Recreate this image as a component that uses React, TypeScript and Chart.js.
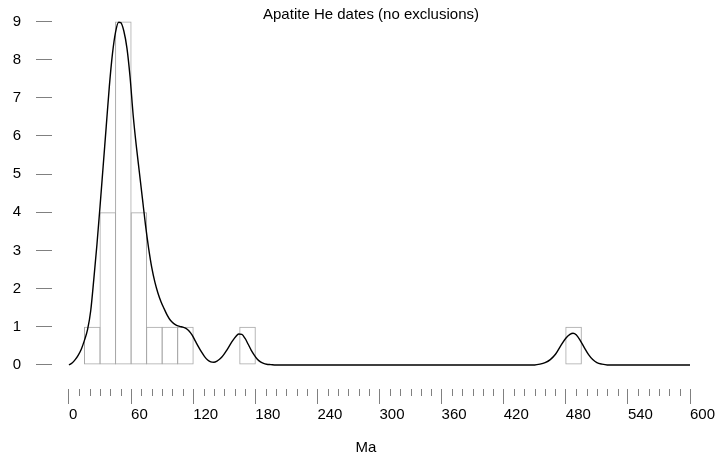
import React, { useEffect, useRef } from 'react';
import { Chart, registerables } from 'chart.js';

Chart.register(...registerables);

const chartTitle = 'Apatite He dates (no exclusions)';
const xAxisLabel = 'Ma';

// histogram bins (Ma)
const binStarts = [15, 30, 45, 60, 75, 90, 105, 165, 480];
const binCounts = [1, 4, 9, 4, 1, 1, 1, 1, 1];
const binWidth = 15;

// kernel density curve
const kdeX = [0, 3, 6, 9, 12, 15, 18, 21, 24, 27, 30, 33, 36, 39, 42, 45, 48, 50, 53, 56, 59, 62, 65, 68, 71, 74, 77, 80, 83, 86, 89, 92, 95, 98, 101, 104, 107, 110, 113, 116, 119, 122, 125, 128, 131, 134, 137, 140, 143, 146, 149, 152, 155, 158, 161, 164, 167, 170, 173, 176, 179, 182, 185, 188, 191, 195, 200, 450, 455, 460, 465, 470, 475, 480, 484, 487, 490, 494, 498, 502, 506, 510, 515, 520, 600];
const kdeY = [0, 0.05, 0.14, 0.26, 0.42, 0.65, 0.93, 1.42, 2.25, 3.15, 4.15, 5.2, 6.25, 7.3, 8.15, 8.72, 8.98, 8.97, 8.75, 8.3, 7.55, 6.55, 5.75, 5.05, 4.35, 3.65, 3.05, 2.55, 2.17, 1.88, 1.65, 1.47, 1.3, 1.17, 1.09, 1.04, 1.01, 0.99, 0.96, 0.89, 0.78, 0.63, 0.48, 0.34, 0.22, 0.13, 0.08, 0.07, 0.1, 0.16, 0.25, 0.37, 0.5, 0.63, 0.74, 0.81, 0.8, 0.7, 0.55, 0.39, 0.26, 0.15, 0.08, 0.04, 0.02, 0.01, 0, 0, 0.02, 0.06, 0.14, 0.28, 0.5, 0.7, 0.8, 0.83, 0.79, 0.64, 0.45, 0.27, 0.14, 0.06, 0.02, 0, 0];

// axes
const xMin = -16.4;
const xMax = 619.3;
const xMajorStep = 60;
const xMinorStep = 10;
const xLast = 600;
const yMin = -0.63;
const yMax = 9.3;
const yStep = 1;

const FONT = '"Liberation Sans", Arial, Helvetica, sans-serif';
const TICK_COLOR = '#808080';

const decorPlugin = {
  id: 'decor',
  afterDraw(chart: any) {
    const { ctx, chartArea, scales } = chart;
    const xs = scales.x;
    ctx.save();
    ctx.strokeStyle = TICK_COLOR;
    ctx.lineWidth = 1;
    for (let v = 0; v <= xLast; v += xMinorStep) {
      if (v % xMajorStep === 0) continue;
      const px = Math.round(xs.getPixelForValue(v)) + 0.5;
      ctx.beginPath();
      ctx.moveTo(px, chartArea.bottom);
      ctx.lineTo(px, chartArea.bottom + 7);
      ctx.stroke();
    }
    ctx.fillStyle = '#000';
    ctx.font = '15px ' + FONT;
    ctx.textAlign = 'center';
    ctx.textBaseline = 'alphabetic';
    ctx.fillText(chartTitle, 371, 19);
    ctx.fillText(xAxisLabel, 366, 452);
    ctx.restore();
  },
};

export default function App() {
  const ref = useRef<HTMLCanvasElement | null>(null);

  useEffect(() => {
    if (!ref.current) return;
    const barData = binStarts.map((s, i) => ({ x: s + binWidth / 2, y: binCounts[i] }));
    const lineData = kdeX.map((x, i) => ({ x, y: kdeY[i] }));
    const chart = new Chart(ref.current, {
      type: 'bar',
      data: {
        datasets: [
          {
            type: 'line',
            data: lineData,
            borderColor: '#000',
            borderWidth: 1.4,
            pointRadius: 0,
            fill: false,
            cubicInterpolationMode: 'monotone',
            order: 0,
          } as any,
          {
            type: 'bar',
            data: barData,
            backgroundColor: 'rgba(0,0,0,0)',
            borderColor: '#a8a8a8',
            borderWidth: 1,
            borderSkipped: false,
            barPercentage: 1.064,
            categoryPercentage: 1,
            order: 1,
          } as any,
        ],
      },
      options: {
        animation: false,
        responsive: true,
        maintainAspectRatio: false,
        layout: { padding: { top: 10, right: 8, left: 0, bottom: 0 } },
        plugins: { legend: { display: false }, tooltip: { enabled: false }, title: { display: false } },
        scales: {
          x: {
            type: 'linear',
            min: xMin,
            max: xMax,
            offset: false,
            afterFit: (s: any) => { s.height = 77; s.paddingLeft = 0; s.paddingRight = 0; },
            border: { display: false },
            grid: { offset: false, drawOnChartArea: false, drawTicks: true, tickLength: 15, tickColor: TICK_COLOR },
            ticks: {
              stepSize: xMajorStep,
              includeBounds: false,
              autoSkip: false,
              maxRotation: 0,
              align: 'start',
              padding: 2,
              color: '#000',
              font: { size: 15, family: FONT },
            },
          },
          y: {
            type: 'linear',
            min: yMin,
            max: yMax,
            afterFit: (s: any) => { s.width = 52; s.paddingTop = 0; s.paddingBottom = 0; },
            border: { display: false },
            grid: { drawOnChartArea: false, drawTicks: true, tickLength: 16, tickColor: TICK_COLOR },
            ticks: {
              stepSize: yStep,
              includeBounds: false,
              padding: 15,
              color: '#000',
              font: { size: 15, family: FONT },
            },
          },
        },
      },
      plugins: [decorPlugin],
    });
    return () => chart.destroy();
  }, []);

  return (
    <div style={{ position: 'absolute', left: 0, top: 0, width: 718, height: 466 }}>
      <canvas ref={ref} />
    </div>
  );
}
